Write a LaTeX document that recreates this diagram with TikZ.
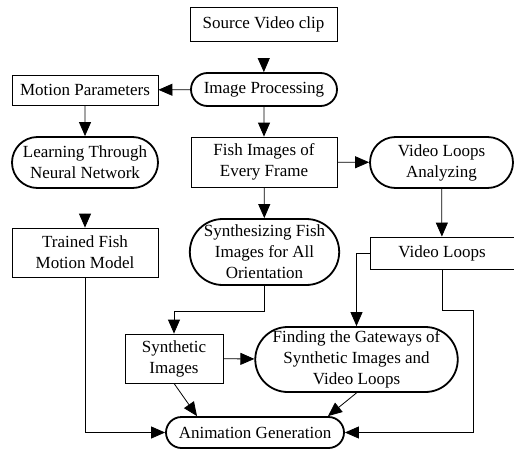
\documentclass[tikz,border=0pt]{standalone}
\usepackage{fontspec}
\setmainfont{Liberation Serif}
\usetikzlibrary{arrows.meta,shapes.misc}
\tikzset{
    box/.style={draw, line width=0.8pt, inner sep=0pt, align=center, font=\fontsize{17}{21}\selectfont},
    pill/.style={rounded rectangle, draw, line width=1.8pt, inner sep=0pt, align=center, font=\fontsize{17}{21}\selectfont},
    arr/.style={draw, line width=0.8pt, -{Triangle[length=14pt,width=12pt]}}
}

\begin{document}
\begin{tikzpicture}[x=1pt,y=-1pt]
        \useasboundingbox (0,0) rectangle (514,450);
        \node[box, minimum width=147, minimum height=34] (src) at (263.5,24) {Source Video clip};
        \node[pill, minimum width=146, minimum height=33] (ip) at (264,89.5) {Image Processing};
        \node[box, minimum width=146, minimum height=30] (mp) at (85,90) {Motion Parameters};
        \node[pill, minimum width=146, minimum height=51] (lt) at (85,162.5) {Learning Through\\Neural Network};
        \node[box, minimum width=146, minimum height=50] (fi) at (264,162) {Fish Images of\\Every Frame};
        \node[pill, minimum width=143, minimum height=51] (vla) at (441.5,162.5) {Video Loops\\Analyzing};
        \node[box, minimum width=146, minimum height=49] (tf) at (85,252.5) {Trained Fish\\Motion Model};
        \node[pill, minimum width=147, minimum height=66] (sf) at (264.5,252) {Synthesizing Fish\\Images for All\\Orientation};
        \node[box, minimum width=144, minimum height=32] (vl) at (442,253) {Video Loops};
        \node[box, minimum width=98, minimum height=49] (si) at (174,358.5) {Synthetic\\Images};
        \node[pill, minimum width=201, minimum height=65] (fg) at (356.5,359.5) {Finding the Gateways of\\Synthetic Images and\\Video Loops};
        \node[pill, minimum width=178, minimum height=31] (ag) at (255,432.5) {Animation Generation};

        \draw[arr, shorten <=17pt] (src) -- (ip);
        \draw[arr] (ip) -- (mp);
        \draw[arr] (ip) -- (fi);
        \draw[arr] (mp) -- (lt);
        \draw[arr, shorten <=25pt] (lt) -- (tf);
        \draw[arr] (fi) -- (vla);
        \draw[arr] (fi) -- (sf);
        \draw[arr] (vla) -- (vl);
        \draw[arr] (sf.south) -- ++(0,25) -| (si.north);
        \draw[arr] (vl.west) -| (fg.north);
        \draw[arr] (si) -- (fg);
        \draw[arr] (si.south) -- ([xshift=-58pt]ag.north);
        \draw[arr] (fg.south) -- ([xshift=73pt]ag.north);
        \draw[arr] (tf.south) |- (ag.west);
        \draw[arr] (vl.south) -- ++(0,41) -- ++(31,0) |- (ag.east);
    \end{tikzpicture}
\end{document}
